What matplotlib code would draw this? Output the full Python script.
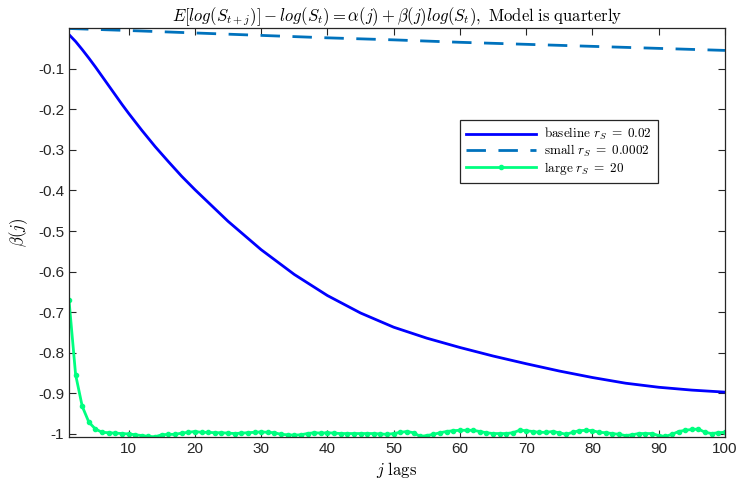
import matplotlib
matplotlib.use('Agg')
import matplotlib.pyplot as plt
import numpy as np

plt.rcParams['font.family'] = ['Liberation Sans', 'DejaVu Sans']
plt.rcParams['mathtext.fontset'] = 'cm'

# baseline r_S = 0.02
j_base = [1, 2, 3, 4, 5, 6, 7, 8, 9, 10, 12, 14, 16, 18, 20, 25, 30, 35, 40,
          45, 50, 55, 60, 65, 70, 75, 80, 85, 90, 95, 100]
beta_base = [-0.016, -0.033, -0.053, -0.074, -0.096, -0.119, -0.142, -0.165, -0.188, -0.210,
             -0.252, -0.292, -0.329, -0.365, -0.398, -0.476, -0.546, -0.607, -0.659,
             -0.702, -0.737, -0.764, -0.787, -0.808, -0.827, -0.845, -0.861, -0.875,
             -0.885, -0.892, -0.897]

# small r_S = 0.0002
j_small = [1, 10, 20, 30, 40, 50, 60, 70, 80, 90, 100]
beta_small = [-0.001, -0.006, -0.012, -0.018, -0.024, -0.029, -0.035,
              -0.040, -0.045, -0.050, -0.055]

# large r_S = 20, one value per lag
j_large = np.arange(1, 101)
beta_large = [-0.670, -0.854, -0.932, -0.971, -0.988, -0.996, -0.997, -0.998, -0.999, -1.000,
              -1.002, -1.004, -1.006, -1.007, -1.002, -1.001, -1.001, -0.998, -0.996, -0.994,
              -0.996, -0.996, -0.997, -0.997, -0.998, -0.999, -0.998, -0.997, -0.996, -0.995,
              -0.996, -0.997, -1.001, -1.002, -1.003, -1.002, -0.999, -0.997, -0.998, -0.997,
              -0.998, -0.999, -0.999, -0.999, -0.999, -0.999, -0.999, -1.000, -1.001, -0.999,
              -0.996, -0.994, -0.997, -1.006, -1.004, -1.001, -0.997, -0.994, -0.992, -0.991,
              -0.991, -0.991, -0.994, -0.997, -0.999, -0.999, -0.999, -0.997, -0.991, -0.992,
              -0.994, -0.996, -0.996, -0.994, -0.997, -1.001, -0.996, -0.992, -0.991, -0.992,
              -0.996, -0.997, -0.999, -1.001, -1.004, -1.002, -0.999, -0.999, -0.999, -1.004,
              -1.006, -1.001, -0.994, -0.991, -0.989, -0.988, -0.996, -0.999, -0.997, -0.996]

xticks = [10, 20, 30, 40, 50, 60, 70, 80, 90, 100]
yticks = [-1, -0.9, -0.8, -0.7, -0.6, -0.5, -0.4, -0.3, -0.2, -0.1]

fig = plt.figure(figsize=(7.37, 4.82), dpi=100)
ax = fig.add_axes([0.0936, 0.0934, 0.8901, 0.8479])

ax.plot(j_base, beta_base, color='#0000ff', lw=2,
        label=r'$\mathrm{baseline}\ r_S\;=\;0.02$')
ax.plot(j_small, beta_small, color='#0072bd', lw=2, dashes=(7, 4.5),
        label=r'$\mathrm{small}\ r_S\;=\;0.0002$')
ax.plot(j_large, beta_large, color='#00ff80', lw=2, marker='o', ms=3,
        label=r'$\mathrm{large}\ r_S\;=\;20$')

ax.set_xlim(1, 100)
ax.set_ylim(-1.0075, -0.0005)
ax.set_xticks(xticks)
ax.set_xticklabels([str(t) for t in xticks])
ax.set_yticks(yticks)
ax.set_yticklabels([('%g' % t) for t in yticks])
ax.tick_params(direction='in', top=True, right=True, length=5, width=0.8,
               color='#262626', labelsize=11, labelcolor='#262626')
for s in ax.spines.values():
    s.set_color('#262626')
    s.set_linewidth(0.9)

ax.set_title(r'$E[log(S_{t+j})] - log(S_t) = \alpha(j) + \beta(j)log(S_t)$' +
             r'$\mathrm{,\ Model\ is\ quarterly}$', fontsize=12, pad=5)
ax.set_xlabel(r'$j\ \mathrm{lags}$', fontsize=12, labelpad=3)
ax.set_ylabel(r'$\beta(j)$', fontsize=12, labelpad=6)

leg = ax.legend(loc='upper left', bbox_to_anchor=(0.596, 0.775), borderaxespad=0,
                fontsize=9.5, handlelength=5.3, handletextpad=0.65, fancybox=False,
                framealpha=1, edgecolor='#262626', borderpad=0.45, labelspacing=0.05)
leg.get_frame().set_linewidth(0.9)

plt.savefig('out.png', dpi=100)
